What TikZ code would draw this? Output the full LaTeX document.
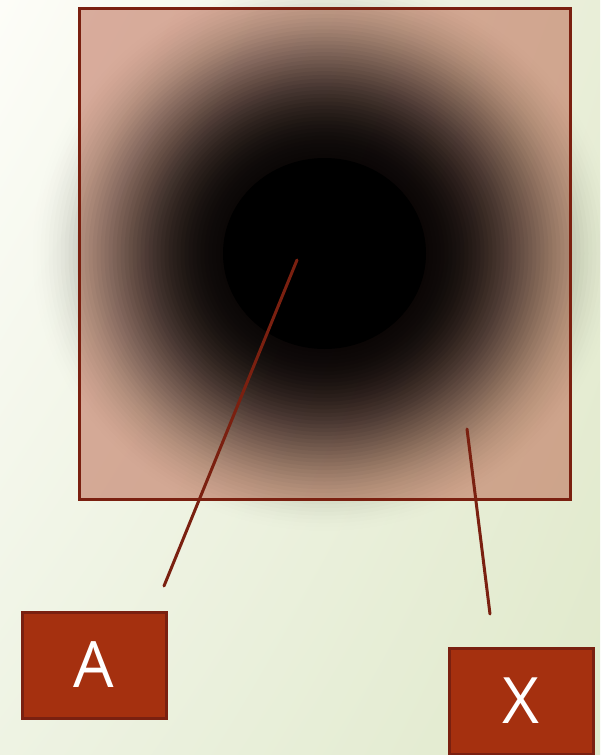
\documentclass[tikz,border=0pt]{standalone}
\usepackage{fontspec}
\setmainfont{Open Sans}
\usetikzlibrary{shadings}
\definecolor{bgUL}{HTML}{FDFDF8}
\definecolor{bgUR}{HTML}{E9EED8}
\definecolor{bgLL}{HTML}{EEF3E3}
\definecolor{bgLR}{HTML}{E0E9CB}
\definecolor{sqfill}{HTML}{B85E46}
\definecolor{darkred}{HTML}{7A2010}
\definecolor{boxfill}{HTML}{A5300F}
\tikzset{
  frame/.style={draw=darkred, line width=3pt},
  leader/.style={draw=darkred, line width=3pt, line cap=round},
  labelbox/.style={draw=darkred, fill=boxfill, line width=3pt, minimum width=144pt, minimum height=106pt, inner sep=0pt, text=white, font=\fontsize{64}{64}\selectfont},
}
\begin{document}
\begin{tikzpicture}[x=1pt,y=-1pt]
\useasboundingbox (0,0) rectangle (600,755);
\shade[upper left=bgUL, upper right=bgUR, lower left=bgLL, lower right=bgLR] (0,0) rectangle (600,755);
% square
\fill[sqfill, fill opacity=0.5] (79,8) rectangle (570,499);
% glow (stacked translucent ellipses)
\foreach \r in {296,292,...,104}{
  \pgfmathsetmacro{\tin}{(\r-100)/200}
  \pgfmathsetmacro{\tout}{min(1,(\r-96)/200)}
  \pgfmathsetmacro{\Tin}{1-0.46*(1+cos(180*\tin))}
  \pgfmathsetmacro{\Tout}{1-0.46*(1+cos(180*\tout))}
  \pgfmathsetmacro{\op}{1-\Tin/\Tout}
  \fill[black, fill opacity=\op] (324.5,253.5) ellipse ({\r} and {\r*0.95});
}
\fill[black] (324.5,253.5) ellipse (101.5 and 95.5);
\node[frame, minimum width=491pt, minimum height=491pt, inner sep=0pt] (sq) at (324.5,253.5) {};
% labels
\node[labelbox] (A) at (94,665) {A};
\node[labelbox] (X) at (521,701) {X};
\coordinate (a1) at (297,260);
\coordinate (a2) at (164,586);
\coordinate (x1) at (467,429);
\coordinate (x2) at (490,614);
\draw[leader] (a1) -- (a2);
\draw[leader] (x1) -- (x2);
\end{tikzpicture}
\end{document}
